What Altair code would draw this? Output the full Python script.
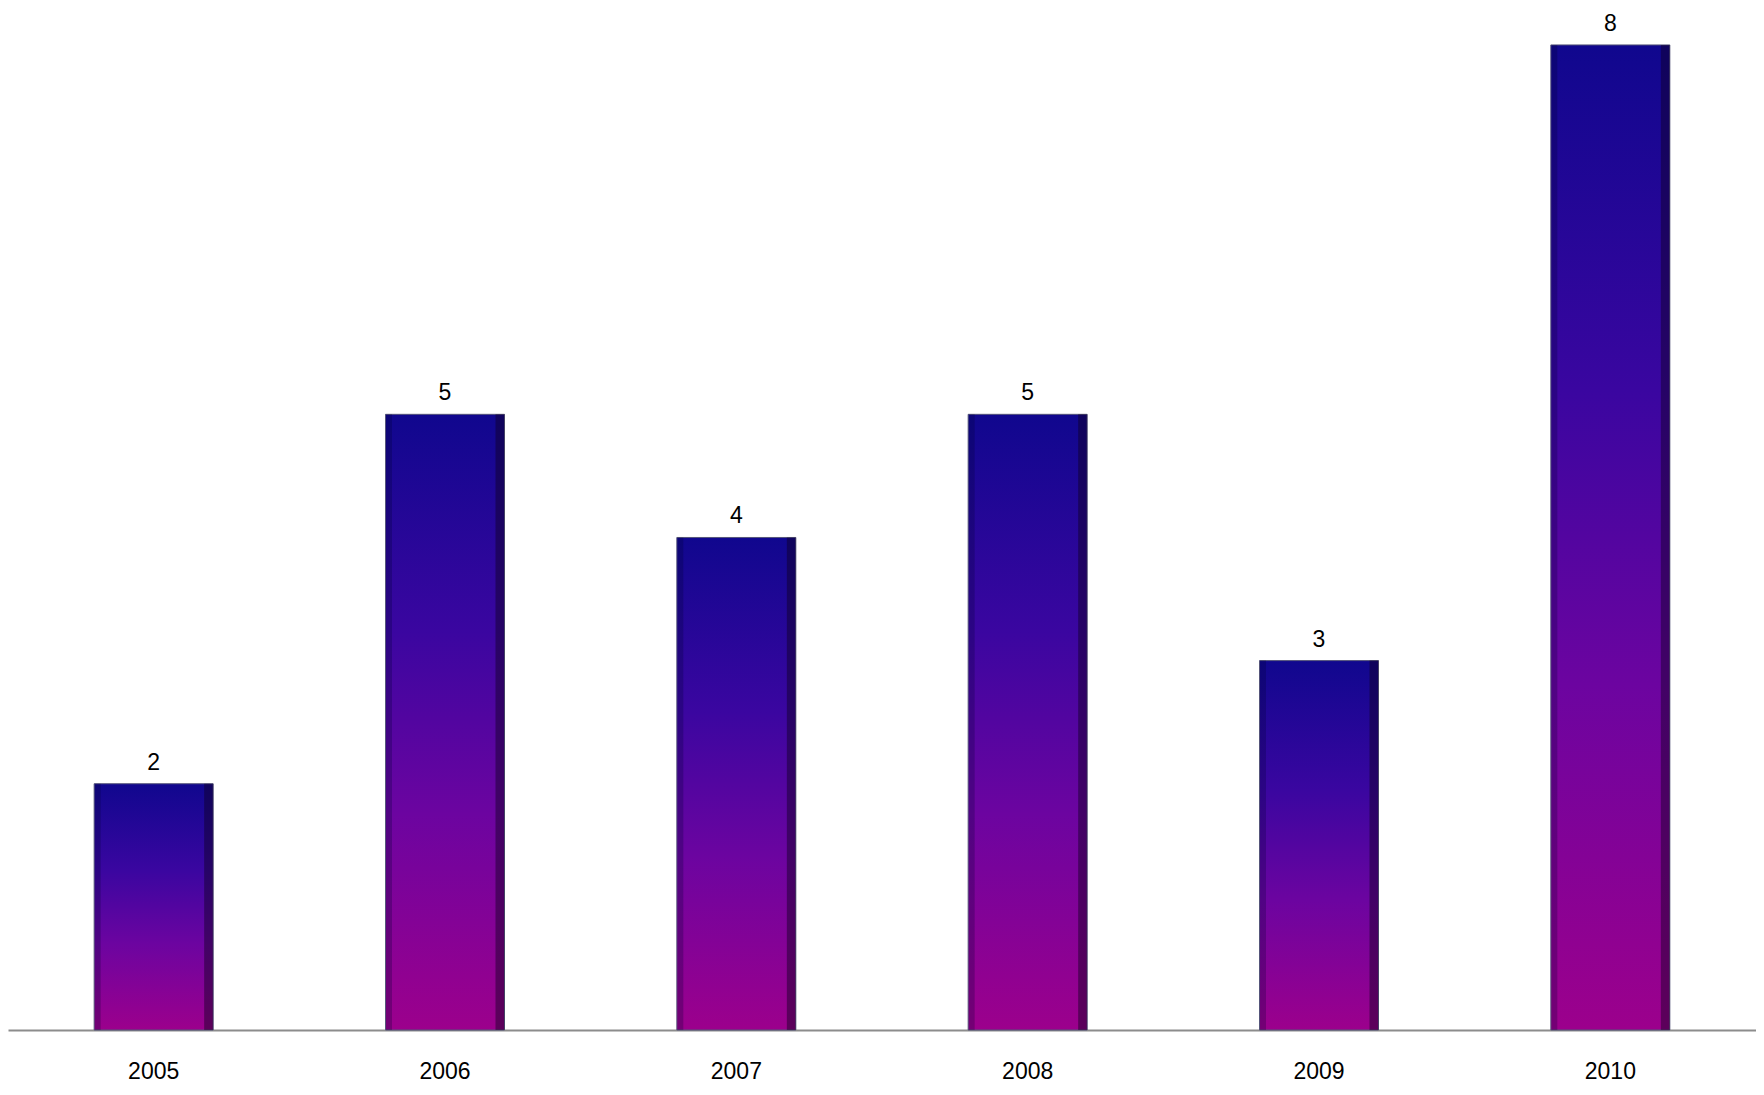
import altair as alt
import pandas as pd

years = ["2005", "2006", "2007", "2008", "2009", "2010"]
counts = [2, 5, 4, 5, 3, 8]

df = pd.DataFrame({"year": years, "count": counts})

FONT = "Liberation Sans"
BAR_W = 119

x = alt.X("year:N", sort=years, title=None,
          scale=alt.Scale(paddingInner=0.59, paddingOuter=0.295),
          axis=alt.Axis(labelAngle=0, labelFont=FONT, labelFontSize=23, labelColor="#000000",
                        domainColor="#8c8c8c", domainWidth=2, ticks=False, labelPadding=30))
y = alt.Y("count:Q", scale=alt.Scale(domain=[0, 8.3], nice=False, zero=True), axis=None)

base = alt.Chart(df)

grad = alt.Gradient(gradient="linear", x1=0, x2=0, y1=0, y2=1,
                    stops=[alt.GradientStop(color="#10078e", offset=0),
                           alt.GradientStop(color="#3a06a0", offset=0.35),
                           alt.GradientStop(color="#6c04a0", offset=0.65),
                           alt.GradientStop(color="#9c008c", offset=1)])

bars = base.mark_bar(size=BAR_W, stroke="#55557a", strokeWidth=1, color=grad).encode(x=x, y=y)

right_shade = base.mark_bar(size=9, xOffset=55, color="#100020", opacity=0.45).encode(x=x, y=y)
left_shade = base.mark_bar(size=6, xOffset=-56, color="#000030", opacity=0.25).encode(x=x, y=y)

labels = base.mark_text(font=FONT, fontSize=23, color="#000000", baseline="bottom",
                        dy=-9).encode(x=x, y=y, text=alt.Text("count:Q"))

chart = alt.layer(bars, right_shade, left_shade, labels).properties(
    width=1748, height=1075,
    autosize=alt.AutoSizeParams(type="fit", contains="padding"),
    padding=0
).configure_view(strokeWidth=0)

chart.save("out.html", embed_options={"renderer": "svg", "actions": False})
